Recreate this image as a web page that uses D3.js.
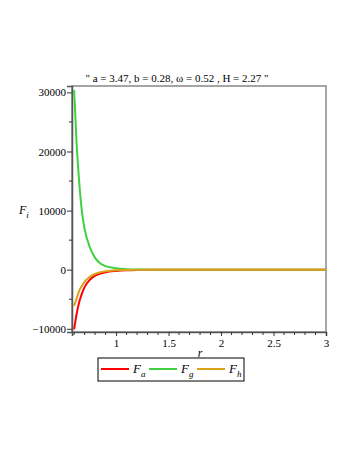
<!DOCTYPE html>
<html>
<head>
<meta charset="utf-8">
<script src="https://cdn.jsdelivr.net/npm/d3@7"></script>
<style>
  body { margin: 0; background: #fff; }
  text { font-family: "Liberation Serif", "Times New Roman", serif; }
</style>
</head>
<body>
<div id="chart"></div>
<script>
// chart data
const rValues = [0.6, 0.625, 0.65, 0.675, 0.7, 0.75, 0.8, 0.85, 0.9, 1.0, 1.1, 1.2, 1.4, 1.7, 2.0, 2.5, 3.0];
const Fa = [-10100, -7400, -5400, -4000, -2950, -1700, -1000, -650, -420, -200, -90, -40, -8, -1, 0, 0, 0];
const Fg = [30400, 21000, 14500, 9800, 6900, 3800, 2000, 1050, 600, 230, 90, 35, 5, 1, 0, 0, 0];
const Fh = [-6140, -4800, -3500, -2700, -2050, -1180, -720, -420, -270, -100, -45, -20, -4, -1, 0, 0, 0];
const xTicks = [1, 1.5, 2, 2.5, 3];
const yTicks = [-10000, 0, 10000, 20000, 30000];
const title = "\" a = 3.47, b = 0.28, \u03c9 = 0.52 , H = 2.27 \"";

const width = 354, height = 458;
const svg = d3.select("#chart").append("svg")
  .attr("width", width)
  .attr("height", height);

const xScale = d3.scaleLinear().domain([0.58, 3]).range([72, 326]);
const yScale = d3.scaleLinear().domain([-10540, 31080]).range([332, 86]);

const series = [
  { name: "a", values: Fa, color: "#ff0000" },
  { name: "g", values: Fg, color: "#3fd03f" },
  { name: "h", values: Fh, color: "#d9a21a" }
];

// frame
svg.append("rect")
  .attr("x", 72).attr("y", 86)
  .attr("width", 254).attr("height", 246)
  .attr("fill", "none")
  .attr("stroke", "#888")
  .attr("stroke-width", 1.5);

// minor ticks
const xMinor = d3.range(6, 31).map(d => d / 10).filter(d => !xTicks.includes(d));
const yMinor = [-5000, 5000, 15000, 25000];

// X axis
const xAxis = svg.append("g")
  .attr("transform", "translate(0,332)")
  .call(d3.axisBottom(xScale).tickValues(xTicks).tickSize(4).tickPadding(3).tickFormat(d3.format("")));
xAxis.select(".domain").attr("stroke", "#555").attr("stroke-width", 1.5);
xAxis.selectAll(".tick line").attr("stroke", "#333");
xAxis.selectAll(".tick text").style("font-size", "11px").attr("fill", "#000");

svg.append("g").selectAll("line")
  .data(xMinor)
  .enter()
  .append("line")
  .attr("x1", d => xScale(d)).attr("x2", d => xScale(d))
  .attr("y1", 332).attr("y2", 335)
  .attr("stroke", "#333");

// Y axis
const yAxis = svg.append("g")
  .attr("transform", "translate(72,0)")
  .call(d3.axisLeft(yScale).tickValues(yTicks).tickSize(5).tickPadding(1)
    .tickFormat(d => d < 0 ? "\u2212" + Math.abs(d) : d));
yAxis.select(".domain").attr("stroke", "#555").attr("stroke-width", 1.5);
yAxis.selectAll(".tick line").attr("stroke", "#333");
yAxis.selectAll(".tick text").style("font-size", "11px").attr("fill", "#000");

svg.append("g").selectAll("line")
  .data(yMinor)
  .enter()
  .append("line")
  .attr("x1", 69).attr("x2", 72)
  .attr("y1", d => yScale(d)).attr("y2", d => yScale(d))
  .attr("stroke", "#333");

// curves
const line = d3.line()
  .x((d, i) => xScale(rValues[i]))
  .y(d => yScale(d))
  .curve(d3.curveMonotoneX);

svg.append("g").selectAll("path")
  .data(series)
  .enter()
  .append("path")
  .attr("d", d => line(d.values))
  .attr("fill", "none")
  .attr("stroke", d => d.color)
  .attr("stroke-width", 2);

// title
svg.append("text")
  .attr("x", 177).attr("y", 82)
  .attr("text-anchor", "middle")
  .style("font-size", "11px")
  .text(title);

// y label
const yLab = svg.append("text")
  .attr("x", 19).attr("y", 214)
  .style("font-size", "12px")
  .style("font-style", "italic");
yLab.append("tspan").text("F");
yLab.append("tspan").attr("dy", 4).style("font-size", "9px").text("i");

// x label
svg.append("text")
  .attr("x", 200).attr("y", 357)
  .attr("text-anchor", "middle")
  .style("font-size", "12px")
  .style("font-style", "italic")
  .text("r");

// legend
const legend = svg.append("g").attr("transform", "translate(98,358)");
legend.append("rect")
  .attr("width", 146).attr("height", 23)
  .attr("fill", "none")
  .attr("stroke", "#000")
  .attr("stroke-width", 1);

const items = legend.selectAll(".legend-item")
  .data(series)
  .enter()
  .append("g")
  .attr("class", "legend-item")
  .attr("transform", (d, i) => `translate(${3 + i * 48}, 11)`);

items.append("line")
  .attr("x1", 0).attr("x2", 28)
  .attr("stroke", d => d.color)
  .attr("stroke-width", 2);

const lt = items.append("text")
  .attr("x", 32).attr("y", 4)
  .style("font-size", "13px")
  .style("font-style", "italic");
lt.append("tspan").text("F");
lt.append("tspan").attr("dy", 4).style("font-size", "9px").text(d => d.name);
</script>
</body>
</html>
